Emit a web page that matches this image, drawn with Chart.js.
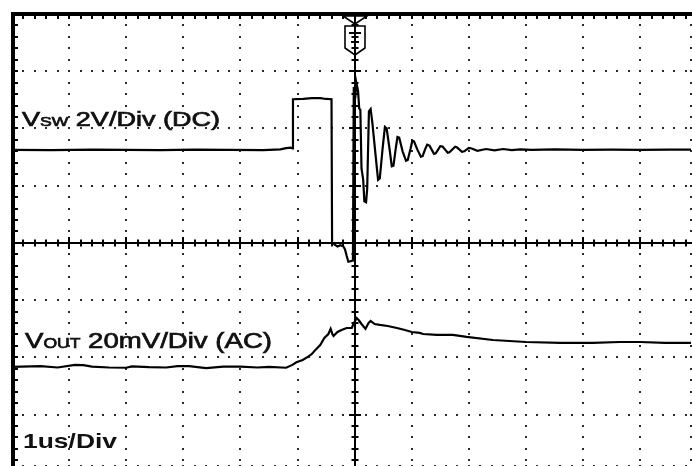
<!DOCTYPE html>
<html><head><meta charset="utf-8">
<script src="https://cdn.jsdelivr.net/npm/chart.js@4.4.0/dist/chart.umd.min.js"></script>
<style>html,body{margin:0;padding:0;background:#fff;overflow:hidden}#wrap{width:692px;height:466px;position:relative}canvas{display:block}</style>
</head><body><div id="wrap"><canvas id="c" width="692" height="466"></canvas></div>
<script>
// ---- Data (time in µs, V_SW in volts, V_OUT in mV AC-coupled deviation) ----
const timeSw = [-6.0,-5.3,-4.6,-4.0,-3.4,-2.8,-2.2,-1.6,-1.3,-1.2,-1.12,-1.09,
  -1.08,-0.9,-0.75,-0.6,-0.5,-0.405,
  -0.395,-0.35,-0.3,-0.25,-0.2,-0.17,-0.14,-0.11,-0.03,
  -0.015,0.01,0.03,0.06,0.08,0.1,0.12,0.15,0.17,0.2,0.22,
  0.25,0.28,0.31,0.36,0.41,0.44,0.49,0.53,0.56,0.61,0.65,0.68,0.72,0.75,0.78,0.84,0.9,0.93,0.98,1.01,1.04,1.1,1.16,1.19,1.24,1.27,1.31,1.39,1.42,1.5,1.54,1.63,1.66,1.76,1.79,1.88,1.92,2.0,2.05,2.15,2.3,2.45,2.6,2.75,2.9,3.1,3.5,4.0,4.5,5.0,5.5,5.9];
const vSw = [3.25,3.24,3.26,3.25,3.24,3.26,3.25,3.24,3.27,3.31,3.33,3.30,
  5.02,5.03,5.06,5.06,5.03,5.02,
  0.02,-0.06,-0.13,-0.08,-0.12,-0.22,-0.45,-0.66,-0.62,
  5.45,5.05,5.6,5.3,4.7,4.65,2.6,2.2,1.45,1.42,1.9,
  4.6,4.68,4.2,3.2,2.2,2.25,3.3,4.05,4.0,3.3,2.68,2.7,3.3,3.7,3.68,3.2,2.87,2.9,3.3,3.57,3.55,3.25,3.01,3.03,3.3,3.43,3.4,3.11,3.13,3.38,3.37,3.15,3.17,3.36,3.34,3.18,3.2,3.32,3.3,3.22,3.28,3.23,3.28,3.24,3.27,3.25,3.27,3.25,3.26,3.25,3.26,3.26];

const timeOut = [-6.0,-5.5,-5.2,-4.9,-4.75,-4.6,-4.3,-4.0,-3.9,-3.6,-3.3,-3.1,-2.9,-2.6,-2.3,-2.0,-1.7,-1.5,-1.2,
  -1.09,-1.02,-0.91,-0.82,-0.75,-0.67,-0.6,-0.53,-0.46,-0.42,-0.39,-0.37,-0.3,-0.23,-0.14,-0.05,-0.02,
  0.035,0.07,0.12,0.19,0.245,0.28,0.35,0.44,0.58,0.74,0.88,1.0,1.14,1.2,1.44,1.72,1.96,2.42,3.0,3.6,4.17,4.64,5.0,5.43,5.9];
const vOut = [0,0.3,-0.2,0.7,0.6,0.1,-0.2,-0.3,0.2,-0.1,-0.2,0.3,0.3,-0.4,0.1,0.1,-0.2,0,-0.3,
  0.7,1.6,2.4,3.5,4.5,6.3,7.7,10.1,11.5,13.3,11.5,10.8,12.2,12.9,13.6,13.6,15.0,
  17.1,16.4,15.0,13.3,15.4,16.1,15.0,14.7,14.3,13.6,12.9,12.2,11.9,11.5,11.2,11.2,10.5,9.4,8.7,8.4,8.4,8.7,8.7,8.4,8.4];

// Graticule divisions (screen divisions; 1 div = 1 µs horizontally)
const xDivLines = [-5,-4,-3,-2,-1,1,2,3,4,5];
const yDivLines = [-3,-2,-1,1,2,3];

// Channel captions
const labelSw = ['V', 'SW', ' 2V/Div (DC)'];
const labelOut = ['V', 'OUT', ' 20mV/Div (AC)'];
const labelTime = '1us/Div';

const toPts = (t, v) => t.map((tt, i) => ({x: tt, y: v[i]}));

const DIV_BOTTOM = -3.9, DIV_TOP = 4, X_MIN = -6, X_MAX = 5.89;
const SW_V_PER_DIV = 2, OUT_MV_PER_DIV = 20, OUT_ZERO_DIV = -2.168;

function drawLabel(ctx, parts, x0, baseline, targetW, sizes, weight, embolden) {
  let w = 0;
  const font = i => weight + ' ' + sizes[i] + 'px "Liberation Sans", Arial, sans-serif';
  const ws = parts.map((p, i) => { ctx.font = font(i); const m = ctx.measureText(p).width; w += m; return m; });
  ctx.save();
  ctx.translate(x0, baseline);
  ctx.scale(targetW / w, 1);
  ctx.fillStyle = '#111';
  ctx.strokeStyle = '#111';
  ctx.lineWidth = embolden;
  ctx.textBaseline = 'alphabetic';
  let cx = 0;
  parts.forEach((p, i) => {
    ctx.font = font(i);
    ctx.fillText(p, cx, 0);
    if (embolden > 0) ctx.strokeText(p, cx, 0);
    cx += ws[i];
  });
  ctx.restore();
}

const scopePlugin = {
  id: 'scope',
  beforeDatasetsDraw(chart) {
    const {ctx, chartArea: a, scales} = chart;
    const x = scales.x, y = scales.y;
    ctx.save();
    const minorX = [], minorY = [];
    for (let k = Math.ceil(x.min * 5 - 1e-6); k <= Math.floor(x.max * 5 + 1e-6); k++) minorX.push(k / 5);
    for (let k = Math.ceil(y.min * 5 - 1e-6); k <= Math.floor(y.max * 5 + 1e-6); k++) minorY.push(k / 5);
    const px = v => x.getPixelForValue(v), py = v => y.getPixelForValue(v);

    // labels (under the grid dots)
    drawLabel(ctx, labelSw, 22, 126, 198, [20, 13, 20], 'normal', 0.7);
    drawLabel(ctx, labelOut, 25, 348, 247, [22, 14, 22], 'normal', 0.7);
    drawLabel(ctx, [labelTime], 23, 448, 94, [21], 'bold', 0);

    // dotted graticule
    ctx.fillStyle = '#2a2a2a';
    const dot = (X, Y) => ctx.fillRect(Math.round(X) - 1, Math.round(Y) - 1, 2, 2);
    xDivLines.concat([x.max]).forEach(v => minorY.forEach(m => dot(px(v), py(m))));
    yDivLines.concat([y.min]).forEach(v => minorX.forEach(m => dot(px(m), py(v))));

    // centre axes with tick marks
    ctx.fillStyle = '#000';
    const cx = Math.round(px(0)), cy = Math.round(py(0));
    ctx.fillRect(a.left, cy - 1, a.right - a.left + 2, 2);
    ctx.fillRect(cx - 1, a.top, 2, a.bottom - a.top);
    minorX.forEach(m => { const L = Math.abs(m - Math.round(m)) < 1e-6 ? 6 : 3.5; ctx.fillRect(Math.round(px(m)) - 1, cy - L, 2, 2 * L); });
    minorY.forEach(m => { const L = Math.abs(m - Math.round(m)) < 1e-6 ? 6 : 3.5; ctx.fillRect(cx - L, Math.round(py(m)) - 1, 2 * L, 2); });

    // top & left borders with ticks
    ctx.fillRect(a.left - 1, a.top - 2, a.right - a.left + 4, 4);
    ctx.fillRect(a.left - 1, a.top - 2, 4, a.bottom - a.top + 4);
    minorX.forEach(m => ctx.fillRect(Math.round(px(m)) - 1, a.top + 2, 2, 3));
    minorY.forEach(m => ctx.fillRect(a.left + 3, Math.round(py(m)) - 1, 3, 2));

    // trigger marker
    ctx.strokeStyle = '#000';
    ctx.lineWidth = 1.6;
    ctx.beginPath();
    ctx.moveTo(cx - 12, a.top + 2); ctx.lineTo(cx, a.top + 10); ctx.lineTo(cx + 12, a.top + 2);
    ctx.closePath();
    ctx.stroke();
    ctx.beginPath();
    ctx.moveTo(cx - 10, 26); ctx.lineTo(cx + 10, 26); ctx.lineTo(cx + 10, 48); ctx.lineTo(cx, 55); ctx.lineTo(cx - 10, 48); ctx.closePath();
    ctx.stroke();
    ctx.fillRect(cx - 6, 32, 12, 2);
    ctx.fillRect(cx - 4, 41, 8, 2);
    ctx.restore();
  }
};

new Chart(document.getElementById('c'), {
  type: 'line',
  data: {
    datasets: [
      {label: 'V_SW', data: toPts(timeSw, vSw), yAxisID: 'ySw', borderColor: '#000', borderWidth: 2.2, pointRadius: 0, tension: 0},
      {label: 'V_OUT', data: toPts(timeOut, vOut), yAxisID: 'yOut', borderColor: '#000', borderWidth: 2.2, pointRadius: 0, tension: 0}
    ]
  },
  options: {
    responsive: false,
    animation: false,
    devicePixelRatio: 1,
    layout: {padding: {left: 12, top: 14, right: 1, bottom: 0}},
    plugins: {legend: {display: false}, tooltip: {enabled: false}},
    scales: {
      x: {type: 'linear', min: X_MIN, max: X_MAX, display: false},
      y: {type: 'linear', min: DIV_BOTTOM, max: DIV_TOP, display: false},
      ySw: {type: 'linear', min: DIV_BOTTOM * SW_V_PER_DIV, max: DIV_TOP * SW_V_PER_DIV, display: false},
      yOut: {type: 'linear', min: (DIV_BOTTOM - OUT_ZERO_DIV) * OUT_MV_PER_DIV, max: (DIV_TOP - OUT_ZERO_DIV) * OUT_MV_PER_DIV, display: false}
    }
  },
  plugins: [scopePlugin]
});
</script></body></html>
